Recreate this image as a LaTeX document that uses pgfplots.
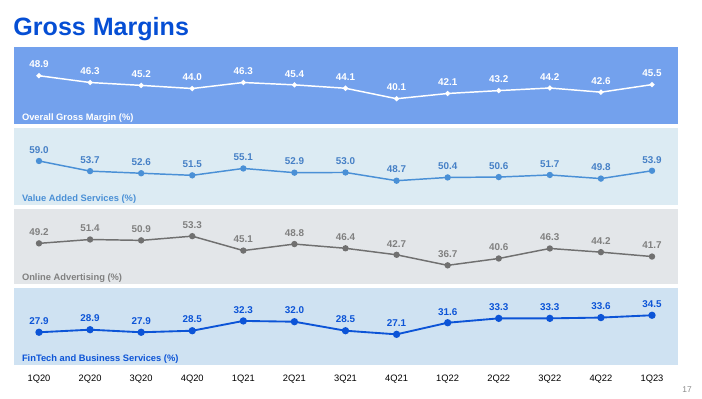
\documentclass[border=0pt]{standalone}
\usepackage{pgfplots}
\pgfplotsset{compat=1.18}
\usepackage{fontspec}
\setmainfont{Liberation Sans}
\definecolor{ttl}{RGB}{5,78,212}
\definecolor{pa}{RGB}{115,161,237}
\definecolor{pb}{RGB}{220,235,243}
\definecolor{pc}{RGB}{227,230,233}
\definecolor{pd}{RGB}{207,226,242}
\definecolor{lb}{RGB}{74,144,214}
\definecolor{tb}{RGB}{70,128,198}
\definecolor{lc}{RGB}{112,112,112}
\definecolor{tc}{RGB}{128,128,128}
\definecolor{ld}{RGB}{12,84,215}
\tikzset{ptitle/.style={anchor=base west, font=\fontsize{7}{8}\selectfont\bfseries, inner sep=0pt}}
\pgfplotsset{
  panel/.style={
    scale only axis, width=498pt,
    xmin=-0.489, xmax=12.509,
    axis line style={draw=none}, tick style={draw=none},
    xtick=\empty, ytick=\empty,
    clip=false,
    nodes near coords,
    nodes near coords style={/pgf/number format/fixed, /pgf/number format/fixed zerofill,
      /pgf/number format/precision=1, /pgf/number format/assume math mode=true,
      font=\fontsize{7.4}{8}\selectfont\bfseries, anchor=base, yshift=5.8pt},
  },
}
\begin{document}
\begin{tikzpicture}
\path[use as bounding box] (0,0) rectangle (526.5pt,299.25pt);
\node[anchor=base west, inner sep=0pt, font=\fontsize{18.8}{20}\selectfont\bfseries, text=ttl] at (9.9pt,272.25pt) {Gross Margins};
% Panel 1
\begin{axis}[panel, at={(10.5pt,206.0pt)}, height=57.98pt, ymin=30.3, ymax=59.88,
  axis background/.style={fill=pa},
  nodes near coords style={text=white}]
\addplot[white, line width=1.1pt, mark=*, mark size=1.3pt] coordinates {
(0,48.9) (1,46.3) (2,45.2) (3,44.0) (4,46.3) (5,45.4) (6,44.1) (7,40.1) (8,42.1) (9,43.2) (10,44.2) (11,42.6) (12,45.5)};
\node[ptitle, text=white] at (rel axis cs:0,0) [xshift=5.8pt, yshift=2.85pt] {Overall Gross Margin (\%)};
\end{axis}
% Panel 2
\begin{axis}[panel, at={(10.5pt,145.5pt)}, height=57.98pt, ymin=36.0, ymax=76.4,
  axis background/.style={fill=pb},
  nodes near coords style={text=tb}]
\addplot[lb, line width=1.1pt, mark=*, mark size=1.8pt] coordinates {
(0,59.0) (1,53.7) (2,52.6) (3,51.5) (4,55.1) (5,52.9) (6,53.0) (7,48.7) (8,50.4) (9,50.6) (10,51.7) (11,49.8) (12,53.9)};
\node[ptitle, text=lb] at (rel axis cs:0,0) [xshift=5.8pt, yshift=2.85pt] {Value Added Services (\%)};
\end{axis}
% Panel 3
\begin{axis}[panel, at={(10.5pt,86.0pt)}, height=56.7pt, ymin=25.9, ymax=68.9,
  axis background/.style={fill=pc},
  nodes near coords style={text=tc}]
\addplot[lc, line width=1.1pt, mark=*, mark size=1.8pt] coordinates {
(0,49.2) (1,51.4) (2,50.9) (3,53.3) (4,45.1) (5,48.8) (6,46.4) (7,42.7) (8,36.7) (9,40.6) (10,46.3) (11,44.2) (12,41.7)};
\node[ptitle, text=tc] at (rel axis cs:0,0) [xshift=5.8pt, yshift=2.85pt] {Online Advertising (\%)};
\end{axis}
% Panel 4
\begin{axis}[panel, at={(10.5pt,25.5pt)}, height=57.98pt, ymin=15.2, ymax=45.2,
  axis background/.style={fill=pd},
  nodes near coords style={text=ld},
  xtick={0,...,12},
  xticklabels={1Q20,2Q20,3Q20,4Q20,1Q21,2Q21,3Q21,4Q21,1Q22,2Q22,3Q22,4Q22,1Q23},
  xticklabel style={font=\fontsize{7}{8}\selectfont, text=black, yshift=-4pt}]
\addplot[ld, line width=1.4pt, mark=*, mark size=2pt] coordinates {
(0,27.9) (1,28.9) (2,27.9) (3,28.5) (4,32.3) (5,32.0) (6,28.5) (7,27.1) (8,31.6) (9,33.3) (10,33.3) (11,33.6) (12,34.5)};
\node[ptitle, text=ld] at (rel axis cs:0,0) [xshift=5.8pt, yshift=2.85pt] {FinTech and Business Services (\%)};
\end{axis}
\node[anchor=base east, inner sep=0pt, font=\fontsize{6.3}{7}\selectfont, text=black!45] at (519pt,4.5pt) {17};
\end{tikzpicture}
\end{document}
